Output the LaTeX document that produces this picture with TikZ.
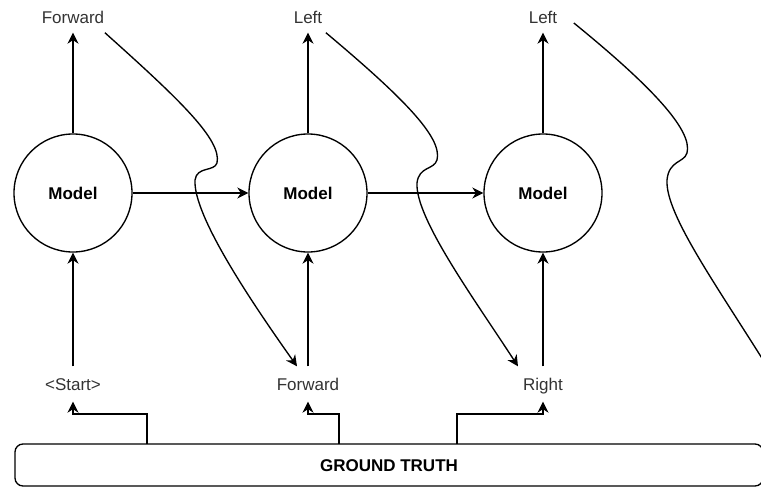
\documentclass[tikz,border=0pt]{standalone}
\usepackage{fontspec}
\setmainfont{Liberation Sans}
\usetikzlibrary{arrows.meta}
\definecolor{labelgray}{HTML}{333333}
\begin{document}
\begin{tikzpicture}[x=1pt,y=-1pt,
  line width=1.35pt,
  arr/.style={-{Stealth[length=11pt,width=11pt,inset=3.5pt]}},
  model/.style={circle,draw,minimum size=118pt,inner sep=0pt,
    font=\fontsize{17}{20}\selectfont\bfseries},
  outlbl/.style={inner sep=0pt,text height=12.5pt,text depth=0pt,
    minimum height=30pt,font=\fontsize{17}{20}\selectfont,text=labelgray},
  inlbl/.style={outlbl,minimum height=34pt},
  truthbox/.style={draw,rounded corners=8pt,minimum width=748pt,
    minimum height=42pt,inner sep=0pt,text height=12.5pt,text depth=0pt,
    font=\fontsize{17}{20}\selectfont\bfseries},
]
\clip (0,0) rectangle (761,487);

% recurrent model cells
\node[model] (m1) at (73,193) {Model};
\node[model] (m2) at (308,193) {Model};
\node[model] (m3) at (543,193) {Model};

% predicted outputs
\node[outlbl] (o1) at (73,17) {Forward};
\node[outlbl] (o2) at (308,17) {Left};
\node[outlbl] (o3) at (543,17) {Left};

% decoder inputs
\node[inlbl] (i1) at (73,384) {<Start>};
\node[inlbl] (i2) at (308,384) {Forward};
\node[inlbl] (i3) at (543,384) {Right};

% ground truth sequence
\node[truthbox] (gt) at (389,465) {GROUND TRUTH};
\coordinate (g1) at (147,444);
\coordinate (g2) at (339,444);
\coordinate (g3) at (457,444);

% vertical flow
\foreach \k in {1,2,3} {
  \draw[arr] (m\k) -- (o\k);
  \draw[arr] (i\k) -- (m\k);
}

% hidden state passed along
\draw[arr] (m1) -- (m2);
\draw[arr] (m2) -- (m3);

% ground truth feeds the inputs
\draw[arr] (g1) -- ++(0,-30) -| (i1.south);
\draw[arr] (g2) -- ++(0,-30) -| (i2.south);
\draw[arr] (g3) -- ++(0,-30) -| (i3.south);

% previous outputs looping to the next inputs
\draw[arr] (o1.south east)
  .. controls (180,100) and (222,140) .. (217,163)
  .. controls (214,172) and (197,166) .. (195,180)
  .. controls (193,215) and (250,300) .. ([xshift=-11pt]i2.north);
\draw[arr] ([xshift=3pt]o2.south east)
  .. controls (400,95) and (443,137) .. (437,160)
  .. controls (434,170) and (419,166) .. (417,183)
  .. controls (415,218) and (475,300) .. ([xshift=-25pt]i3.north);
\coordinate (c3s) at ([xshift=16pt,yshift=-6pt]o3.east);
\coordinate (c3e) at (778,384);
\draw[arr] (c3s)
  .. controls (650,85) and (693,130) .. (687,153)
  .. controls (684,163) and (669,160) .. (667,180)
  .. controls (665,215) and (720,290) .. (c3e);
\end{tikzpicture}
\end{document}
